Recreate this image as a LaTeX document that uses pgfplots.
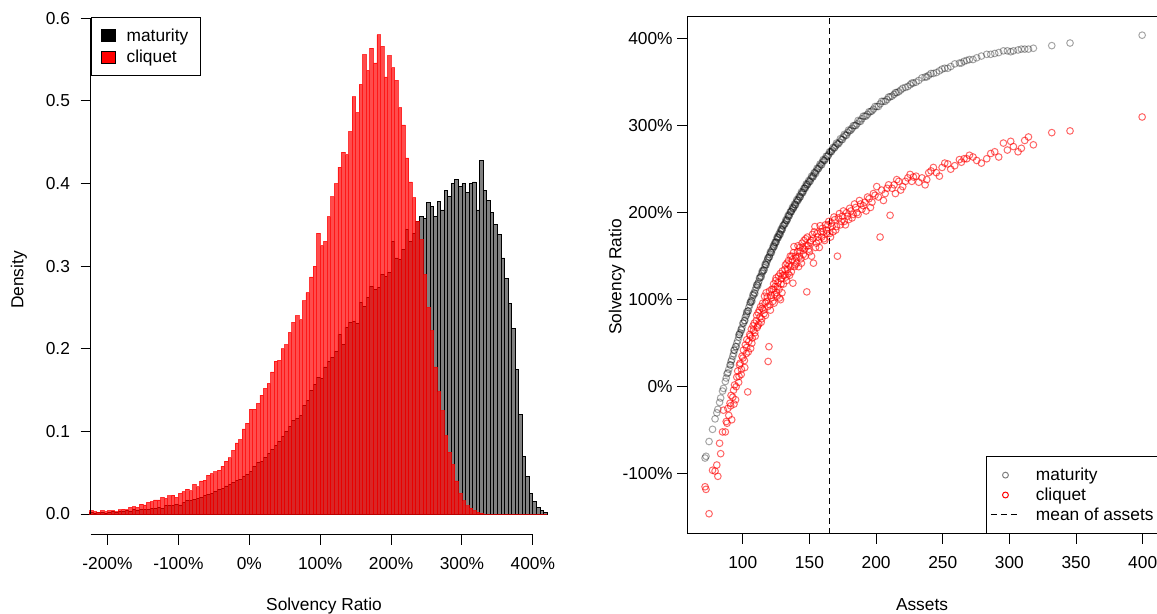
\documentclass[border=0pt]{standalone}
\usepackage{fontspec}
\setmainfont{Liberation Sans}
\usepackage{pgfplots}
\usepackage{pgfplotstable}
\pgfplotsset{compat=1.18}

% histogram densities, bin width 5%, x = bin centre
\pgfplotstableread{
x m c
-222.5 0.002 0.004
-217.5 0.001 0.003
-212.5 0.002 0.002
-207.5 0.002 0.004
-202.5 0.001 0.003
-197.5 0.002 0.004
-192.5 0.003 0.004
-187.5 0.002 0.003
-182.5 0.003 0.005
-177.5 0.003 0.006
-172.5 0.004 0.005
-167.5 0.003 0.008
-162.5 0.005 0.009
-157.5 0.004 0.008
-152.5 0.005 0.012
-147.5 0.006 0.011
-142.5 0.005 0.014
-137.5 0.007 0.015
-132.5 0.007 0.017
-127.5 0.008 0.017
-122.5 0.007 0.020
-117.5 0.010 0.019
-112.5 0.010 0.022
-107.5 0.010 0.023
-102.5 0.012 0.020
-97.5 0.011 0.025
-92.5 0.014 0.027
-87.5 0.016 0.030
-82.5 0.016 0.028
-77.5 0.018 0.036
-72.5 0.019 0.033
-67.5 0.020 0.040
-62.5 0.022 0.041
-57.5 0.024 0.047
-52.5 0.025 0.049
-47.5 0.027 0.051
-42.5 0.030 0.053
-37.5 0.031 0.058
-32.5 0.034 0.064
-27.5 0.036 0.068
-22.5 0.038 0.077
-17.5 0.041 0.086
-12.5 0.042 0.090
-7.5 0.046 0.103
-2.5 0.048 0.110
2.5 0.052 0.127
7.5 0.058 0.127
12.5 0.062 0.134
17.5 0.064 0.144
22.5 0.069 0.152
27.5 0.073 0.158
32.5 0.078 0.172
37.5 0.083 0.185
42.5 0.088 0.186
47.5 0.094 0.200
52.5 0.100 0.205
57.5 0.106 0.220
62.5 0.113 0.232
67.5 0.116 0.240
72.5 0.119 0.235
77.5 0.131 0.258
82.5 0.138 0.268
87.5 0.150 0.287
92.5 0.157 0.300
97.5 0.165 0.340
102.5 0.164 0.325
107.5 0.178 0.330
112.5 0.185 0.360
117.5 0.190 0.384
122.5 0.197 0.400
127.5 0.217 0.420
132.5 0.205 0.438
137.5 0.226 0.435
142.5 0.232 0.463
147.5 0.233 0.505
152.5 0.231 0.486
157.5 0.256 0.520
162.5 0.251 0.556
167.5 0.262 0.537
172.5 0.275 0.564
177.5 0.272 0.546
182.5 0.274 0.580
187.5 0.290 0.566
192.5 0.288 0.529
197.5 0.292 0.555
202.5 0.330 0.540
207.5 0.310 0.525
212.5 0.308 0.492
217.5 0.320 0.471
222.5 0.344 0.431
227.5 0.330 0.402
232.5 0.340 0.383
237.5 0.354 0.354
242.5 0.360 0.332
247.5 0.358 0.290
252.5 0.377 0.250
257.5 0.372 0.222
262.5 0.360 0.178
267.5 0.378 0.148
272.5 0.368 0.125
277.5 0.392 0.095
282.5 0.384 0.075
287.5 0.400 0.060
292.5 0.405 0.040
297.5 0.396 0.025
302.5 0.400 0.016
307.5 0.389 0.010
312.5 0.400 0.007
317.5 0.402 0.004
322.5 0.368 0.002
327.5 0.428 0.001
332.5 0.392 0
337.5 0.380 0
342.5 0.365 0
347.5 0.350 0
352.5 0.338 0
357.5 0.310 0
362.5 0.285 0
367.5 0.255 0
372.5 0.225 0
377.5 0.175 0
382.5 0.120 0
387.5 0.070 0
392.5 0.045 0
397.5 0.025 0
402.5 0.015 0
407.5 0.008 0
412.5 0.004 0
417.5 0.002 0
}\histdata

% assets vs solvency ratio (%), maturity m and cliquet c
\pgfplotstableread{
a m c
71.7 -82 -115
72.4 -80 -118
74.7 -63 -146
77.3 -49 -96
79.2 -37 -97
80.5 -30 -90
81.3 -26 -103
82.6 -18 -65
83.4 -13 -77
84.8 -5 -52
85.5 -2 -27
86.9 6 -52
87.6 10 -40
88.8 16 -25
89.5 20 -33
90.4 25 -19
91.2 29 -10
91.7 31 -38
92.5 35 -12
93.1 38 -4
93.8 42 2
94.6 46 -15
95.5 50 11
96.2 53 18
96.9 57 5
97.5 60 25
98.0 62 27
98.8 66 14
99.4 68 35
100.5 73 42
101.2 76 30
101.9 80 48
102.6 82 38
103.0 84 54
103.7 87 -6
104.5 91 52
105.2 94 60
105.9 97 44
106.4 99 66
107.1 102 56
108.0 105 65
108.6 108 73
109.3 111 58
110.1 114 76
110.8 117 68
111.5 119 85
112.0 121 72
112.9 125 80
113.4 127 92
114.2 130 78
114.9 132 96
115.5 134 88
116.3 137 104
117.0 140 82
117.8 143 98
118.4 145 103
119.0 147 29
119.6 149 46
120.3 152 94
121.0 154 105
121.8 157 112
122.5 159 98
123.1 161 118
123.9 164 106
124.6 166 122
125.4 169 108
126.0 171 115
126.8 173 127
127.5 175 102
128.3 178 100
129.0 180 124
129.7 182 133
130.5 185 118
131.2 187 128
132.0 189 140
132.8 191 122
133.5 193 135
134.3 196 145
135.1 198 128
136.0 201 138
136.8 203 150
137.6 205 119
138.4 207 161
139.2 209 140
140.1 212 148
141.0 214 155
141.9 216 138
142.7 218 160
143.6 221 147
144.5 223 165
145.4 225 152
146.3 228 158
147.2 230 170
148.0 232 109
149.0 234 162
150.0 236 155
151.1 239 168
152.2 241 175
153.0 243 142
154.1 246 184
155.2 248 165
156.3 250 172
157.4 253 160
158.6 255 178
159.7 258 182
160.8 260 170
162.0 262 186
163.3 265 176
164.5 267 190
165.8 270 172
167.0 272 184
168.4 274 195
169.7 277 180
171.0 279 150
172.5 281 199
174.0 284 190
175.5 287 202
177.0 289 186
178.6 292 196
180.2 294 205
182.0 297 194
183.8 300 210
185.6 302 200
187.5 305 214
189.4 308 204
191.5 311 212
193.6 313 218
195.8 316 206
198.0 319 222
200.5 322 230
203.0 325 172
205.5 328 214
208.2 330 228
210.5 333 197
213.5 336 232
215.5 338 238
218.5 341 226
222.0 344 236
225.5 347 244
228.0 349 241
232.0 352 235
236.8 356 232
239.5 358 246
243.0 360 252
247.5 363 242
251.5 366 257
256.0 368 250
262.5 372 261
266.0 374 262
270.0 376 266
275.5 378 260
279.0 380 257
286.0 382 268
292.0 384 264
295.5 386 280
303.0 386 276
306.5 387 270
309.0 388 274
314.3 388 287
331.8 392 292
345.5 395 294
399.6 404 310
88.2 15 -42
90.9 25 -22
93.4 42 -20
95.0 46 0
97.2 60 12
99.0 65 20
100.1 73 33
101.5 76 22
102.9 86 45
104.1 87 40
105.6 97 58
106.8 98 50
107.7 106 70
109.0 107 62
110.4 117 82
111.2 116 70
112.5 125 88
113.8 126 74
114.6 133 90
115.9 134 84
116.8 141 96
117.5 140 108
118.8 148 92
120.0 149 110
120.7 155 88
121.5 154 102
122.9 162 112
123.5 161 96
124.2 166 115
125.0 166 125
125.8 172 104
126.5 171 120
127.2 176 112
128.0 175 130
128.7 181 118
129.4 180 108
130.1 185 128
131.6 187 135
132.4 192 126
133.1 191 142
134.0 197 130
134.7 196 140
135.6 201 150
136.4 201 132
137.2 206 146
138.0 205 154
138.8 210 138
139.6 209 150
140.5 215 142
141.4 214 162
142.3 219 150
143.1 218 156
144.0 224 142
145.0 223 160
145.9 228 168
146.8 228 150
147.6 233 162
148.5 232 172
149.5 237 158
150.5 236 166
151.6 242 150
152.7 241 170
153.6 246 178
154.6 245 160
155.7 251 176
156.9 251 168
158.0 256 185
159.2 255 172
160.3 261 178
161.4 260 168
162.6 265 180
163.9 265 186
165.1 270 176
166.4 270 188
167.7 275 178
169.0 275 192
170.3 280 184
171.7 279 194
173.2 285 186
174.7 284 196
176.2 290 190
177.8 289 200
179.4 295 192
181.1 295 202
182.9 300 198
184.7 300 206
186.5 306 198
188.4 305 210
190.4 311 208
192.5 311 202
194.7 316 216
196.9 317 212
199.2 322 220
201.7 322 218
204.2 328 226
206.8 328 222
209.4 333 232
212.0 334 228
214.5 338 222
217.0 339 236
220.0 343 230
223.8 345 240
226.8 349 236
230.0 350 242
234.4 355 240
238.0 356 238
241.2 360 248
245.2 361 246
249.5 365 252
253.8 366 256
259.0 371 254
264.0 372 258
268.0 375 262
272.7 376 264
283.0 382 262
289.0 383 270
298.5 386 272
301.0 385 282
311.5 388 283
318.0 389 278
}\scatdata

\begin{document}
\begin{tikzpicture}[font=\fontsize{13}{15.6}\selectfont]
% ---------- left: histograms ----------
\begin{axis}[
  at={(68pt,59.25pt)}, anchor=south west, scale only axis,
  width=340.7pt, height=387.5pt,
  xmin=-223.7, xmax=417, ymin=-0.0254, ymax=0.6,
  axis x line*=bottom, axis y line*=left,
  axis line style={draw=none},
  xtick={-200,-100,0,100,200,300,400},
  xticklabels={-200\%,-100\%,0\%,100\%,200\%,300\%,400\%},
  ytick={0,0.1,0.2,0.3,0.4,0.5,0.6},
  yticklabels={0.0,0.1,0.2,0.3,0.4,0.5,0.6},
  tick align=outside, major tick length=7.5pt,
  tick style={black, line width=0.75pt},
  tick label style={font=\fontsize{13}{15.6}\selectfont},
  yticklabel style={xshift=-4.5pt},
  xticklabel style={yshift=-6pt},
  clip=false,
  legend style={at={(axis cs:-223.7,0.602)}, anchor=north west,
    draw=black, line width=0.75pt, inner xsep=7pt, inner ysep=6.5pt,
    row sep=1pt,
    font=\fontsize{13}{15.6}\selectfont, cells={anchor=west},
    /tikz/every odd column/.append style={column sep=6.5pt}},
  legend image code/.code={\draw[line width=0.6pt,#1] (0pt,-4.5pt) rectangle (10.5pt,4.5pt);},
]
\addplot[forget plot, ybar, bar width=5, bar shift=0pt, draw=black, fill=black!50, line width=0.6pt]
  table[x=x,y=m]{\histdata};
\addplot[forget plot, ybar, bar width=5, bar shift=0pt, draw=red, fill=red, fill opacity=0.7, draw opacity=0.7, line width=0.6pt]
  table[x=x,y=c]{\histdata};
\addlegendimage{draw=black, fill=black}
\addlegendentry{maturity}
\addlegendimage{draw=black, fill=red}
\addlegendentry{cliquet}
\draw[line width=0.75pt] (axis cs:-223.7,0) -- (axis cs:-223.7,0.6);
\draw[line width=0.75pt] (axis cs:-223.7,-0.0254) -- (axis cs:400,-0.0254);
\end{axis}

% ---------- right: scatter ----------
\begin{axis}[
  at={(515.5pt,60pt)}, anchor=south west, scale only axis,
  width=355pt, height=388pt,
  xmin=58.4, xmax=413.5, ymin=-169.3, ymax=425.3,
  axis line style={line width=0.75pt},
  xtick={100,150,200,250,300,350,400},
  xticklabels={100,150,200,250,300,350,400},
  ytick={-100,0,100,200,300,400},
  yticklabels={-100\%,0\%,100\%,200\%,300\%,400\%},
  tick align=outside, tick pos=left, major tick length=7.5pt,
  tick style={black, line width=0.75pt},
  tick label style={font=\fontsize{13}{15.6}\selectfont},
  xticklabel style={yshift=-6pt},
  legend style={at={(rel axis cs:1,0)}, anchor=south east,
    draw=black, line width=0.75pt, inner xsep=3pt, inner ysep=6.5pt,
    row sep=0pt,
    font=\fontsize{13}{15.6}\selectfont, cells={anchor=west},
    /tikz/every odd column/.append style={column sep=9.5pt}},
  legend image code/.code={\draw[mark repeat=2,mark phase=2,#1] plot coordinates {(0pt,0pt)(11pt,0pt)(22pt,0pt)};},
]
\addplot[forget plot, only marks, mark=o, mark size=2.5pt, black, opacity=0.35, line width=0.75pt]
  table[x=a,y=m]{\scatdata};
\addplot[forget plot, only marks, mark=o, mark size=2.5pt, red, opacity=0.6, line width=0.75pt]
  table[x=a,y=c]{\scatdata};
\addplot[forget plot, black, line width=0.75pt, dash pattern=on 4.5pt off 3pt] coordinates {(165,-169.3) (165,425.3)};
\addlegendimage{only marks, mark=o, mark size=2.2pt, gray, line width=0.75pt}
\addlegendentry{maturity}
\addlegendimage{only marks, mark=o, mark size=2.2pt, red, line width=0.75pt}
\addlegendentry{cliquet}
\addlegendimage{black, line width=0.75pt, dash pattern=on 4.5pt off 3pt}
\addlegendentry{mean of assets}
\end{axis}

% axis titles
\node[rotate=90] at (14.25pt,250.5pt) {Density};
\node[anchor=base] at (243pt,2.25pt) {Solvency Ratio};
\node[rotate=90] at (462.75pt,252.75pt) {Solvency Ratio};
\node[anchor=base] at (691.5pt,2.25pt) {Assets};

\pgfresetboundingbox
\path[use as bounding box] (0pt,0pt) rectangle (867.75pt,460.5pt);
\end{tikzpicture}
\end{document}
